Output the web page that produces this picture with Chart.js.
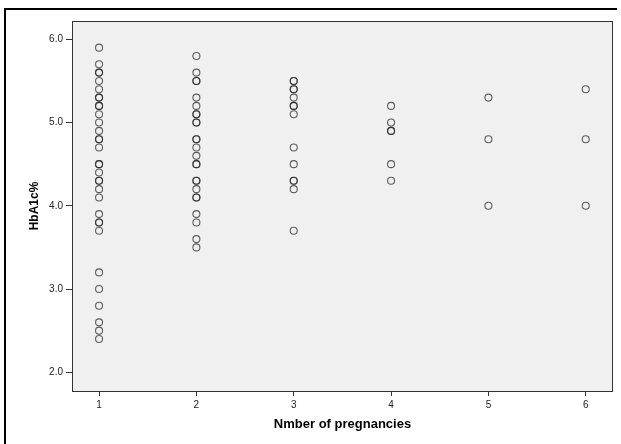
<!DOCTYPE html>
<html>
<head>
<meta charset="utf-8">
<script src="https://cdn.jsdelivr.net/npm/chart.js@4"></script>
<style>
  body { margin: 0; background: #fff; }
  #wrap { width: 621px; height: 444px; }
</style>
</head>
<body>
<div id="wrap"><canvas id="cChart" width="621" height="444"></canvas></div>
<script>
// HbA1c% by number of pregnancies (repeated values appear twice)
var preg1 = [5.9, 5.7, 5.6, 5.6, 5.5, 5.4, 5.3, 5.3, 5.2, 5.2, 5.1, 5.0, 4.9, 4.8, 4.8, 4.7,
             4.5, 4.5, 4.4, 4.3, 4.3, 4.2, 4.1, 3.9, 3.8, 3.8, 3.7, 3.2, 3.0, 2.8, 2.6, 2.5, 2.4];
var preg2 = [5.8, 5.6, 5.5, 5.5, 5.3, 5.2, 5.1, 5.1, 5.0, 5.0, 4.8, 4.8, 4.7, 4.6, 4.5, 4.5,
             4.3, 4.3, 4.2, 4.1, 4.1, 3.9, 3.8, 3.6, 3.5];
var preg3 = [5.5, 5.5, 5.4, 5.4, 5.3, 5.2, 5.2, 5.1, 4.7, 4.5, 4.3, 4.3, 4.2, 3.7];
var preg4 = [5.2, 5.0, 4.9, 4.9, 4.5, 4.3];
var preg5 = [5.3, 4.8, 4.0];
var preg6 = [5.4, 4.8, 4.0];

var groups = [preg1, preg2, preg3, preg4, preg5, preg6];
var xTicks = [1, 2, 3, 4, 5, 6];
var yTicks = [2.0, 3.0, 4.0, 5.0, 6.0];

var points = [];
groups.forEach(function (vals, i) {
  vals.forEach(function (v) {
    points.push({ x: xTicks[i], y: v });
  });
});

// grey plot area, its frame and the outer frame
var frames = {
  id: 'frames',
  beforeDraw: function (chart) {
    var ctx = chart.ctx, a = chart.chartArea;
    ctx.save();
    ctx.fillStyle = '#f0f0f0';
    ctx.fillRect(a.left, a.top, a.right - a.left, a.bottom - a.top);
    ctx.restore();
  },
  afterDraw: function (chart) {
    var ctx = chart.ctx, a = chart.chartArea;
    ctx.save();
    ctx.strokeStyle = '#333';
    ctx.lineWidth = 1;
    ctx.strokeRect(a.left + 0.5, a.top + 0.5, a.right - a.left - 1, a.bottom - a.top);
    ctx.strokeStyle = '#000';
    ctx.lineWidth = 2;
    ctx.beginPath();
    ctx.moveTo(5, 444);
    ctx.lineTo(5, 9);
    ctx.lineTo(617, 9);
    ctx.stroke();
    ctx.restore();
  }
};

var config = {
  type: 'scatter',
  data: {
    datasets: [{
      label: 'HbA1c%',
      data: points,
      pointRadius: 3.5,
      pointHoverRadius: 3.5,
      pointBorderWidth: 1.1,
      pointBackgroundColor: 'rgba(0,0,0,0)',
      pointBorderColor: 'rgba(30,30,30,0.7)'
    }]
  },
  plugins: [frames],
  options: {
    responsive: false,
    animation: false,
    events: [],
    layout: { padding: { left: 0, top: 21, right: 8, bottom: 0 } },
    plugins: { legend: { display: false }, tooltip: { enabled: false } },
    scales: {
      x: {
        type: 'linear',
        min: 0.722,
        max: 6.28,
        afterFit: function (s) { s.height = 53; },
        afterBuildTicks: function (s) { s.ticks = xTicks.map(function (v) { return { value: v }; }); },
        border: { display: false },
        grid: { drawOnChartArea: false, tickLength: 5, tickColor: '#333', lineWidth: 1 },
        ticks: { padding: 3, color: '#222', font: { family: 'Liberation Sans', size: 10 },
                 callback: function (v) { return String(v); } },
        title: { display: true, text: 'Nmber of pregnancies', color: '#000',
                 font: { family: 'Liberation Sans', size: 13, weight: 'bold' },
                 padding: { top: 0, bottom: 12 } }
      },
      y: {
        type: 'linear',
        min: 1.775,
        max: 6.22,
        afterFit: function (s) { s.width = 72; },
        afterBuildTicks: function (s) { s.ticks = yTicks.map(function (v) { return { value: v }; }); },
        border: { display: false },
        grid: { drawOnChartArea: false, tickLength: 6, tickColor: '#333', lineWidth: 1 },
        ticks: { padding: 3, color: '#222', font: { family: 'Liberation Sans', size: 10 },
                 callback: function (v) { return v.toFixed(1); } },
        title: { display: true, text: 'HbA1c%', color: '#000',
                 font: { family: 'Liberation Sans', size: 12, weight: 'bold' },
                 padding: { top: 27, bottom: 0 } }
      }
    }
  }
};

var cChart = new Chart(document.getElementById('cChart'), config);
</script>
</body>
</html>
